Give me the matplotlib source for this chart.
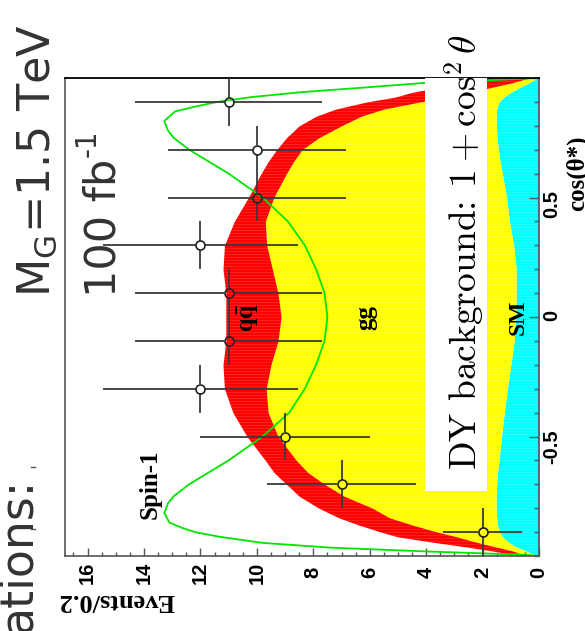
import numpy as np
import matplotlib.pyplot as plt
from matplotlib.patches import Rectangle
from matplotlib.lines import Line2D
from matplotlib.ticker import MultipleLocator

# cos(theta*) sampling of the stacked expectations (events per 0.2)
cos_grid = [-1.0, -0.98, -0.96, -0.94, -0.92, -0.9, -0.87, -0.84, -0.8, -0.75,
            -0.7, -0.65, -0.6, -0.5, -0.4, -0.3, -0.2, -0.1, 0.0, 0.1,
            0.2, 0.3, 0.4, 0.5, 0.6, 0.65, 0.7, 0.75, 0.8, 0.84,
            0.87, 0.9, 0.92, 0.94, 0.96, 0.98, 1.0]
sm = [0.05, 0.45, 0.85, 1.10, 1.30, 1.40, 1.47, 1.50, 1.52, 1.52,
      1.50, 1.47, 1.42, 1.33, 1.23, 1.12, 1.00, 0.88, 0.82, 0.81,
      0.81, 0.90, 1.05, 1.15, 1.30, 1.38, 1.44, 1.49, 1.51, 1.52,
      1.50, 1.42, 1.25, 1.00, 0.70, 0.35, 0.05]
gg = [0.40, 0.45, 0.75, 1.20, 1.60, 2.20, 3.03, 3.80, 4.38, 5.38,
      6.10, 6.73, 7.18, 7.92, 8.37, 8.55, 8.50, 8.37, 8.32, 8.44,
      8.64, 8.75, 8.65, 8.25, 7.65, 7.32, 6.96, 6.31, 5.49, 4.78,
      4.00, 2.78, 2.05, 1.50, 1.00, 0.60, 0.30]
qqbar = [0.15, 0.70, 1.10, 1.60, 2.10, 2.00, 1.90, 1.80, 1.90, 1.60,
         1.35, 1.20, 1.10, 1.10, 1.25, 1.48, 1.70, 1.85, 1.96, 1.85,
         1.75, 1.50, 1.10, 0.90, 0.90, 0.90, 0.90, 1.15, 1.50, 1.60,
         1.70, 1.90, 1.80, 2.00, 1.90, 1.85, 1.65]

# spin-1 hypothesis
spin1_cos = [-1.0, -0.995, -0.98, -0.965, -0.945, -0.92, -0.9, -0.88, -0.86, -0.82,
             -0.78, -0.75, -0.7, -0.65, -0.6, -0.5, -0.4, -0.3, -0.2, -0.1,
             0.0, 0.1, 0.2, 0.3, 0.4, 0.5, 0.6, 0.65, 0.7, 0.75,
             0.78, 0.82, 0.86, 0.88, 0.9, 0.92, 0.94, 0.96, 0.98, 0.99, 1.0]
spin1 = [0.0, 0.5, 4.2, 7.4, 9.8, 11.3, 12.2, 12.7, 13.1, 13.28,
         13.15, 12.95, 12.4, 11.7, 11.0, 9.8, 8.85, 8.3, 7.9, 7.6,
         7.5, 7.6, 7.9, 8.3, 8.9, 9.8, 11.0, 11.7, 12.4, 12.95,
         13.15, 13.28, 12.9, 12.2, 11.4, 10.2, 8.5, 6.2, 4.0, 1.9, 0.0]

# pseudo-data
bin_centers = [-0.9, -0.7, -0.5, -0.3, -0.1, 0.1, 0.3, 0.5, 0.7, 0.9]
counts = [2, 7, 9, 12, 11, 11, 12, 10, 10, 11]
half_bin = 0.1

event_ticks = [0, 2, 4, 6, 8, 10, 12, 14, 16]
cos_ticks = [-0.5, 0, 0.5]
cos_ticklabels = ['-0.5', '0', '0.5']

W, H = 585, 631
fig = plt.figure(figsize=(W / 100, H / 100), dpi=100)


def fx(px):
    return px / W


def fy(py):
    return 1 - py / H


ax = fig.add_axes([fx(65), fy(556), (539 - 65) / W, (556 - 78) / H])

c = np.array(cos_grid)
lvl1 = np.array(sm)
lvl2 = lvl1 + np.array(gg)
lvl3 = lvl2 + np.array(qqbar)
ax.fill_betweenx(c, 0, lvl1, color='#00ffff', lw=0, zorder=1)
ax.fill_betweenx(c, lvl1, lvl2, color='#ffff00', lw=0, zorder=1)
ax.fill_betweenx(c, lvl2, lvl3, color='#ff0000', lw=0, zorder=1)
# faint raster lines of the filled histograms
ax.hlines(np.arange(-1, 1, 0.0125), 0, 16.8, color='white', lw=0.5,
          alpha=0.18, zorder=1.5)
ax.plot(spin1, spin1_cos, color='#00e600', lw=1.3, zorder=2)

# error bars stop at the open marker
n = np.array(counts, dtype=float)
yc = np.array(bin_centers)
err = np.sqrt(n)
gap_e, gap_c = 0.15, 0.018
ebar = dict(color='#3a3a3a', lw=1.3, zorder=3)
ax.hlines(yc, n + err, n + gap_e, **ebar)
ax.hlines(yc, n - gap_e, n - err, **ebar)
ax.vlines(n, yc - half_bin, yc - gap_c, **ebar)
ax.vlines(n, yc + gap_c, yc + half_bin, **ebar)
ax.plot(n, yc, 'o', ms=6.5, mfc='none', mec='#222222', mew=1.2, zorder=4)

ax.set_xlim(16.8, 0)
ax.set_ylim(-1, 1)

ax.set_xticks(event_ticks)
ax.xaxis.set_minor_locator(MultipleLocator(0.5))
ax.set_yticks(cos_ticks)
ax.set_yticklabels(cos_ticklabels)
ax.yaxis.set_minor_locator(MultipleLocator(0.1))
ax.yaxis.tick_right()
ax.tick_params(axis='x', which='both', direction='in', bottom=True, top=False,
               colors='#555555', labelcolor='black', labelrotation=90, pad=12)
ax.tick_params(axis='x', which='major', length=6, width=1.0)
ax.tick_params(axis='x', which='minor', length=3, width=1.0)
ax.tick_params(axis='y', which='both', direction='in', left=False, right=True,
               labelleft=False, labelright=True, colors='#555555',
               labelcolor='black', labelrotation=90, pad=9)
ax.tick_params(axis='y', which='major', length=7, width=1.0)
ax.tick_params(axis='y', which='minor', length=3.5, width=1.0)
for lab in ax.get_xticklabels() + ax.get_yticklabels():
    lab.set_fontfamily('Liberation Sans')
    lab.set_fontweight('bold')
    lab.set_fontsize(14.5)
for lab in ax.get_xticklabels():
    lab.set_va('center')
for lab in ax.get_yticklabels():
    lab.set_ha('center')

for side in ['left', 'bottom', 'right']:
    ax.spines[side].set_color('#555555')
    ax.spines[side].set_linewidth(1.2)
ax.spines['top'].set_color('black')
ax.spines['top'].set_linewidth(1.3)

lbl = dict(family='Liberation Serif', weight='bold', rotation=90,
           ha='center', va='center', zorder=5)
ax.text(13.79, -0.70, 'Spin-1', fontsize=18, **lbl)
ax.text(10.31, 0.0, r'$\mathbf{q\bar{q}}$', fontsize=18,
        math_fontfamily='stix', **lbl)
ax.text(6.13, 0.0, 'gg', fontsize=18, **lbl)
ax.text(0.74, 0.0, 'SM', fontsize=17, **lbl)

# axis titles
fig.text(fx(577), fy(173), 'cos(θ*)', family='Liberation Serif',
         weight='bold', fontsize=18, rotation=90, ha='center', va='center')
fig.text(fx(116), fy(601), 'Events/0.2', family='Liberation Serif',
         weight='bold', fontsize=19, rotation=180, ha='center', va='center')

# overlay box with the background model
fig.add_artist(Rectangle((fx(425), fy(491)), (487 - 425) / W, (491 - 78) / H,
                         transform=fig.transFigure, facecolor='white',
                         edgecolor='none', zorder=6))
fig.text(fx(476), fy(470), r'DY background: $1+\cos^2\theta$',
         family='cmr10', math_fontfamily='cm', fontsize=27, rotation=90,
         rotation_mode='anchor', ha='left', va='baseline', zorder=7)

# slide annotations
slide = dict(family='DejaVu Sans', color='#333333', rotation=90,
             rotation_mode='anchor', ha='left', va='baseline')
fig.text(fx(50), fy(297), r'M$_\mathrm{G}$=1.5 TeV', math_fontfamily='dejavusans',
         fontsize=32, **slide)
fig.text(fx(115), fy(297), '100 fb', fontsize=31, **slide)
fig.text(fx(96), fy(157), '-1', fontsize=20, **slide)
fig.text(fx(31), fy(633), 'ations:', fontsize=33, **slide)
for py in (467, 529):
    fig.add_artist(Line2D([fx(31), fx(35)], [fy(py), fy(py)], color='#555555',
                          lw=1.0, transform=fig.transFigure))

fig.savefig('out.png', dpi=100)
